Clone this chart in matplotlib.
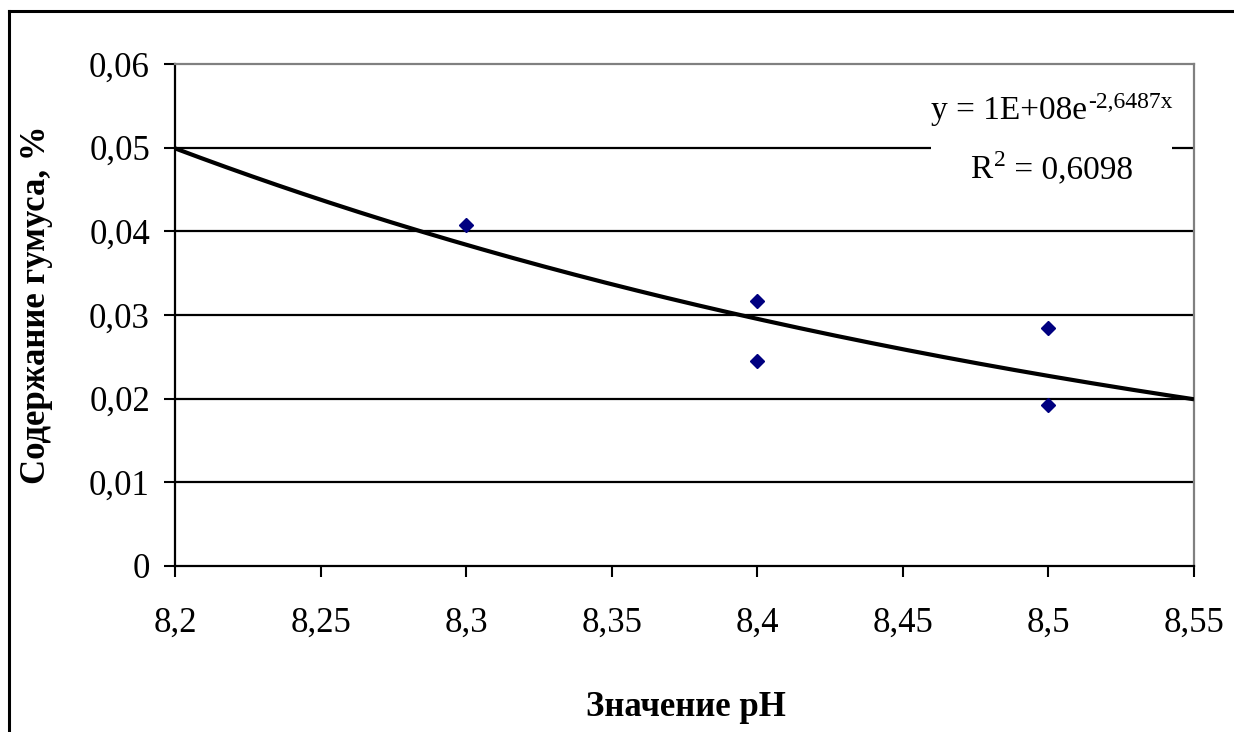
import numpy as np
import matplotlib
matplotlib.use('Agg')
import matplotlib.pyplot as plt
from matplotlib.patches import Rectangle
from matplotlib.lines import Line2D
from matplotlib.ticker import FuncFormatter

plt.rcParams['font.family'] = ['Liberation Serif', 'DejaVu Serif']

# data
ph = [8.3, 8.4, 8.4, 8.5, 8.5]
humus = [0.0407, 0.0317, 0.0245, 0.0285, 0.0192]
x_ticks = [8.2, 8.25, 8.3, 8.35, 8.4, 8.45, 8.5, 8.55]
y_ticks = [0, 0.01, 0.02, 0.03, 0.04, 0.05, 0.06]
eq_parts = ['y = 1E+08e', '-2,6487x']
r2_parts = ['R', '2', ' = 0,6098']

W, H = 1234, 732
fig = plt.figure(figsize=(W / 100, H / 100), dpi=100)

def fx(px):
    return px / W

def fy(py):
    return 1 - py / H

ax = fig.add_axes([fx(175), fy(566), fx(1194) - fx(175), fy(64) - fy(566)])

# exponential trend line (least squares on ln y, like Excel)
k, b = np.polyfit(ph, np.log(humus), 1)
xx = np.linspace(x_ticks[0], x_ticks[-1], 200)
ax.plot(xx, np.exp(b + k * xx), color='black', lw=3, zorder=3, solid_capstyle='butt')

ax.plot(ph, humus, 'D', color='#000080', ms=7.5, zorder=4)

ax.set_xlim(x_ticks[0], x_ticks[-1])
ax.set_ylim(y_ticks[0], y_ticks[-1])
ax.set_xticks(x_ticks)
ax.set_yticks(y_ticks)
fmt = FuncFormatter(lambda v, p: ('%g' % round(v, 4)).replace('.', ','))
ax.xaxis.set_major_formatter(fmt)
ax.yaxis.set_major_formatter(fmt)
ax.tick_params(axis='both', labelsize=25, length=8, width=1.5, direction='out', color='black')
ax.tick_params(axis='x', pad=21)
ax.tick_params(axis='y', pad=10)

for yv in y_ticks[1:-1]:
    ax.axhline(yv, color='black', lw=1.6, zorder=1)

ax.spines['left'].set_linewidth(1.6)
ax.spines['bottom'].set_linewidth(1.6)
ax.spines['top'].set_color('#808080')
ax.spines['top'].set_linewidth(1.6)
ax.spines['right'].set_color('#808080')
ax.spines['right'].set_linewidth(1.6)

# white box behind the trend line label
fig.add_artist(Rectangle((fx(931), fy(192)), fx(1172) - fx(931), fy(88) - fy(192),
                         transform=fig.transFigure, facecolor='white', edgecolor='none', zorder=2))

renderer = fig.canvas.get_renderer()

def label_line(parts, sizes, rises, cx, base):
    # put pieces one after another, centred on cx, superscripts raised
    texts = [fig.text(0, fy(base - r), s, fontsize=fs, ha='left', va='baseline', zorder=3)
             for s, fs, r in zip(parts, sizes, rises)]
    widths = [t.get_window_extent(renderer).width for t in texts]
    x = cx - sum(widths) / 2
    for t, w in zip(texts, widths):
        t.set_x(fx(x))
        x += w + 1

label_line(eq_parts, [24, 17], [0, 11], 1051, 119)
label_line(r2_parts, [24, 17, 24], [0, 12, 0], 1051, 178)

fig.text(fx(37), fy(305), 'Содержание гумуса, %', fontsize=25, fontweight='bold',
         rotation=90, ha='center', va='center')
fig.text(fx(686), fy(708), 'Значение pH', fontsize=25, fontweight='bold',
         ha='center', va='center')

# outer chart frame (left and top edges visible)
fig.add_artist(Line2D([fx(9), fx(9)], [0, fy(11)], color='black', lw=2.2, transform=fig.transFigure))
fig.add_artist(Line2D([fx(9), 1], [fy(11), fy(11)], color='black', lw=2.2, transform=fig.transFigure))

fig.savefig('out.png', dpi=100)
